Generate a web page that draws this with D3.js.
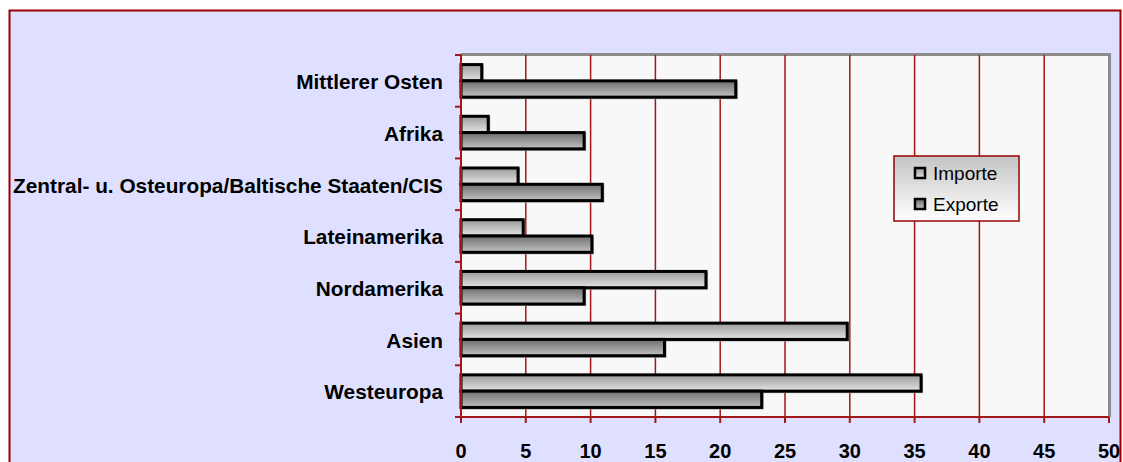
<!DOCTYPE html>
<html>
<head>
<meta charset="utf-8">
<script src="https://cdn.jsdelivr.net/npm/d3@7"></script>
<style>
  body { margin: 0; background: #fff; }
  text { font-family: "Liberation Sans", Arial, sans-serif; }
</style>
</head>
<body>
<script>
// regions, top to bottom
const regions = ["Mittlerer Osten", "Afrika", "Zentral- u. Osteuropa/Baltische Staaten/CIS",
                 "Lateinamerika", "Nordamerika", "Asien", "Westeuropa"];
const importe = [1.6, 2.1, 4.4, 4.8, 18.9, 29.8, 35.5];
const exporte = [21.2, 9.5, 10.9, 10.1, 9.5, 15.7, 23.2];
const series = ["Importe", "Exporte"];
const xTicks = [0, 5, 10, 15, 20, 25, 30, 35, 40, 45, 50];

const W = 1123, H = 462;
const plot = {left: 461, right: 1109, top: 55, bottom: 417};

let svg = d3.select("body").append("svg")
            .attr("width", W)
            .attr("height", H);

// gradients for bars and legend
let defs = svg.append("defs");
function grad(id, c1, c2) {
    let g = defs.append("linearGradient").attr("id", id)
                .attr("x1", 0).attr("y1", 0).attr("x2", 0).attr("y2", 1);
    g.append("stop").attr("offset", "0%").attr("stop-color", c1);
    g.append("stop").attr("offset", "100%").attr("stop-color", c2);
}
grad("gImporte", "#9a9a9a", "#e4e4e4");
grad("gExporte", "#6e6e6e", "#c2c2c2");
grad("gLegend", "#c4c4c4", "#ffffff");

// outer background
svg.append("rect")
   .attr("x", 9.5).attr("y", 10.5)
   .attr("width", 1111).attr("height", 500)
   .attr("fill", "#dfe0ff")
   .attr("stroke", "#990000")
   .attr("stroke-width", 2);

// scales
let x = d3.scaleLinear().domain([0, 50]).range([plot.left, plot.right]);
let y = d3.scaleBand().domain(regions)
          .range([plot.top, plot.bottom])
          .paddingInner(0.37).paddingOuter(0.185);
let ySub = d3.scaleBand().domain(series).range([0, y.bandwidth()]);

// plot area with gray shadow edge
svg.append("rect")
   .attr("x", plot.left).attr("y", plot.top)
   .attr("width", plot.right - plot.left).attr("height", plot.bottom - plot.top)
   .attr("fill", "#f8f8f8");
svg.append("path")
   .attr("d", "M" + plot.left + "," + (plot.top - 0.5) + "H" + (plot.right + 0.5) + "V" + plot.bottom)
   .attr("fill", "none")
   .attr("stroke", "#8c8c8c")
   .attr("stroke-width", 3);

// vertical grid lines
svg.selectAll(".grid")
   .data(xTicks.slice(1, -1))
   .enter().append("line")
   .attr("x1", d => x(d)).attr("x2", d => x(d))
   .attr("y1", plot.top).attr("y2", plot.bottom)
   .attr("stroke", "#a01818")
   .attr("stroke-width", 1.5);

// bars
let data = [];
regions.forEach(function(r, i) {
    data.push({region: r, s: "Importe", v: importe[i]});
    data.push({region: r, s: "Exporte", v: exporte[i]});
});

svg.selectAll(".shadow")
   .data(data)
   .enter().append("rect")
   .attr("x", x(0) + 1)
   .attr("y", d => y(d.region) + ySub(d.s) + 1)
   .attr("width", d => x(d.v) - x(0))
   .attr("height", ySub.bandwidth())
   .attr("fill", "none")
   .attr("stroke", "#999")
   .attr("stroke-width", 2);

svg.selectAll(".bar")
   .data(data)
   .enter().append("rect")
   .attr("x", x(0))
   .attr("y", d => y(d.region) + ySub(d.s))
   .attr("width", d => x(d.v) - x(0))
   .attr("height", ySub.bandwidth())
   .attr("fill", d => "url(#g" + d.s + ")")
   .attr("stroke", "#000")
   .attr("stroke-width", 3);

// axes (red)
let step = y.step();
let bounds = d3.range(regions.length + 1).map(i => plot.top + i * step);
svg.append("line")
   .attr("x1", plot.left).attr("x2", plot.left)
   .attr("y1", plot.top - 1).attr("y2", plot.bottom)
   .attr("stroke", "#a01818").attr("stroke-width", 2);
svg.selectAll(".ytick")
   .data(bounds)
   .enter().append("line")
   .attr("x1", plot.left - 6).attr("x2", plot.left)
   .attr("y1", d => d).attr("y2", d => d)
   .attr("stroke", "#a01818").attr("stroke-width", 2);

svg.append("line")
   .attr("x1", plot.left).attr("x2", plot.right)
   .attr("y1", plot.bottom).attr("y2", plot.bottom)
   .attr("stroke", "#a01818").attr("stroke-width", 2);
svg.selectAll(".xtick")
   .data(xTicks)
   .enter().append("line")
   .attr("x1", d => x(d)).attr("x2", d => x(d))
   .attr("y1", plot.bottom).attr("y2", plot.bottom + 6)
   .attr("stroke", "#a01818").attr("stroke-width", 2);

// tick labels
svg.selectAll(".xlabel")
   .data(xTicks)
   .enter().append("text")
   .attr("x", d => x(d))
   .attr("y", 458)
   .attr("text-anchor", "middle")
   .style("font-size", "20px")
   .style("font-weight", "bold")
   .text(d => d);

svg.selectAll(".ylabel")
   .data(regions)
   .enter().append("text")
   .attr("x", 443)
   .attr("y", d => y(d) + y.bandwidth() / 2 + 1)
   .attr("dy", "0.35em")
   .attr("text-anchor", "end")
   .style("font-size", "20.8px")
   .style("font-weight", "bold")
   .text(d => d);

// legend
let legend = svg.append("g").attr("transform", "translate(894,156)");
legend.append("rect")
      .attr("width", 125).attr("height", 65)
      .attr("fill", "url(#gLegend)")
      .attr("stroke", "#990000")
      .attr("stroke-width", 1.5);

let items = legend.selectAll(".item")
                  .data(series)
                  .enter().append("g")
                  .attr("transform", (d, i) => "translate(0," + (17 + i * 31) + ")");
items.append("rect")
     .attr("x", 21).attr("y", -5)
     .attr("width", 10).attr("height", 10)
     .attr("fill", d => "url(#g" + d + ")")
     .attr("stroke", "#000")
     .attr("stroke-width", 2.5);
items.append("text")
     .attr("x", 39).attr("y", 0)
     .attr("dy", "0.35em")
     .style("font-size", "19px")
     .text(d => d);
</script>
</body>
</html>
